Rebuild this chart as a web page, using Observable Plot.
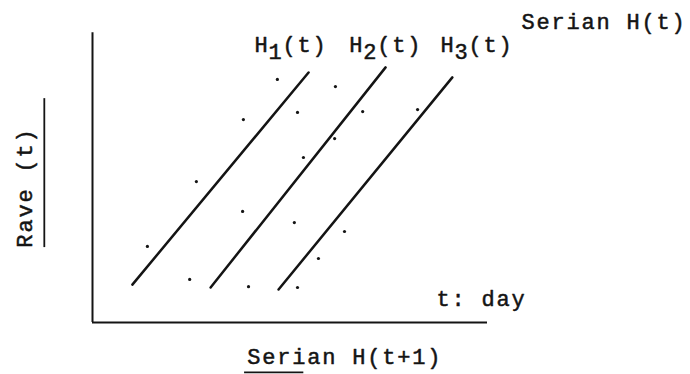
<!DOCTYPE html>
<html>
<head>
<meta charset="utf-8">
<script src="https://cdn.jsdelivr.net/npm/d3@7"></script>
<script src="https://cdn.jsdelivr.net/npm/@observablehq/plot@0.6"></script>
<style>
  html, body { margin: 0; padding: 0; background: #fff; }
  #chart svg { display: block; }
</style>
</head>
<body>
<div id="chart"></div>
<script>
// Fitted lines H1, H2, H3 (start and end points in chart units)
const fitIds    = ["1", "2", "3"];
const fitStartX = [10.1, 29.9, 47.1];
const fitStartY = [13.2, 12.2, 11.5];
const fitEndX   = [54.7, 74.2, 91.1];
const fitEndY   = [87.1, 88.9, 85.4];

// Label anchors for H1(t), H2(t), H3(t)
const fitLabelX = [41.0, 65.0, 88.1];
const fitLabelY = [94.1, 94.1, 94.1];

// Observed points: Serian H(t+1) vs Rave(t)
const obsX = [46.8, 61.5, 38.2, 51.9, 68.4, 53.4, 61.3, 26.3, 13.9, 38.0, 51.1, 63.8, 57.2, 24.6, 39.5, 51.9, 82.3];
const obsY = [84.7, 82.2, 70.7, 73.2, 73.5, 57.5, 64.1, 49.1, 26.5, 38.7, 34.8, 31.7, 22.3, 15.0, 12.5, 12.2, 74.2];

// Axis titles and note
const xTitle = "Serian H(t+1)";
const yTitle = "Rave (t)";
const topTitle = "Serian H(t)";
const unitNote = "t: day";

const fits = fitIds.map((id, i) => ({
  id, x1: fitStartX[i], y1: fitStartY[i], x2: fitEndX[i], y2: fitEndY[i],
  lx: fitLabelX[i], ly: fitLabelY[i]
}));
const obs = obsX.map((x, i) => ({x, y: obsY[i]}));

const ink = "#141414";
const font = "Liberation Mono, Courier New, monospace";
const fs = 22;
const adv = 15;
// shared look of the typed labels (slightly heavier strokes)
const typed = {textAnchor: "start", lineAnchor: "bottom", fontSize: fs, fill: ink, stroke: ink, strokeWidth: 0.5, paintOrder: "fill"};

const plot = Plot.plot({
  width: 690,
  height: 374,
  margin: 0,
  x: {type: "linear", domain: [0, 100], range: [92, 487], axis: null},
  y: {type: "linear", domain: [0, 100], range: [322, 35], axis: null},
  style: {fontFamily: font, letterSpacing: "1.8px", background: "#fff", color: ink},
  marks: [
    // L-shaped frame
    Plot.ruleX([0], {x: d => d, y1: 0, y2: 101, stroke: ink, strokeWidth: 2}),
    Plot.ruleY([0], {y: d => d, x1: 0, x2: 100, stroke: ink, strokeWidth: 2}),
    // fitted lines
    Plot.link(fits, {x1: "x1", y1: "y1", x2: "x2", y2: "y2", stroke: ink, strokeWidth: 2.5, strokeLinecap: "round"}),
    // observations
    Plot.dot(obs, {x: "x", y: "y", r: 1.6, fill: ink, stroke: null}),
    // H_i(t) labels: H, subscript index, (t)
    Plot.text(fits, {...typed, x: "lx", y: "ly", text: () => "H"}),
    Plot.text(fits, {...typed, x: "lx", y: "ly", text: "id", dx: adv - 1, dy: 7}),
    Plot.text(fits, {...typed, x: "lx", y: "ly", text: () => "(t)", dx: 2 * adv - 2}),
    // titles
    Plot.text([topTitle], {...typed, x: 108.6, y: 102.4, text: d => d}),
    Plot.text([unitNote], {...typed, x: 87.1, y: 5.9, text: d => d}),
    Plot.text([xTitle], {...typed, x: 39.2, y: -14.3, text: d => d}),
    Plot.ruleY([-17.4], {y: d => d, x1: 38.5, x2: 53.5, stroke: ink, strokeWidth: 1.8}),
    Plot.text([yTitle], {...typed, x: -17.2, y: 47, text: d => d, rotate: -90, textAnchor: "middle", lineAnchor: "middle"}),
    Plot.ruleX([-12.2], {x: d => d, y1: 26.1, y2: 78, stroke: ink, strokeWidth: 1.8})
  ]
});

document.getElementById("chart").appendChild(plot);
</script>
</body>
</html>
